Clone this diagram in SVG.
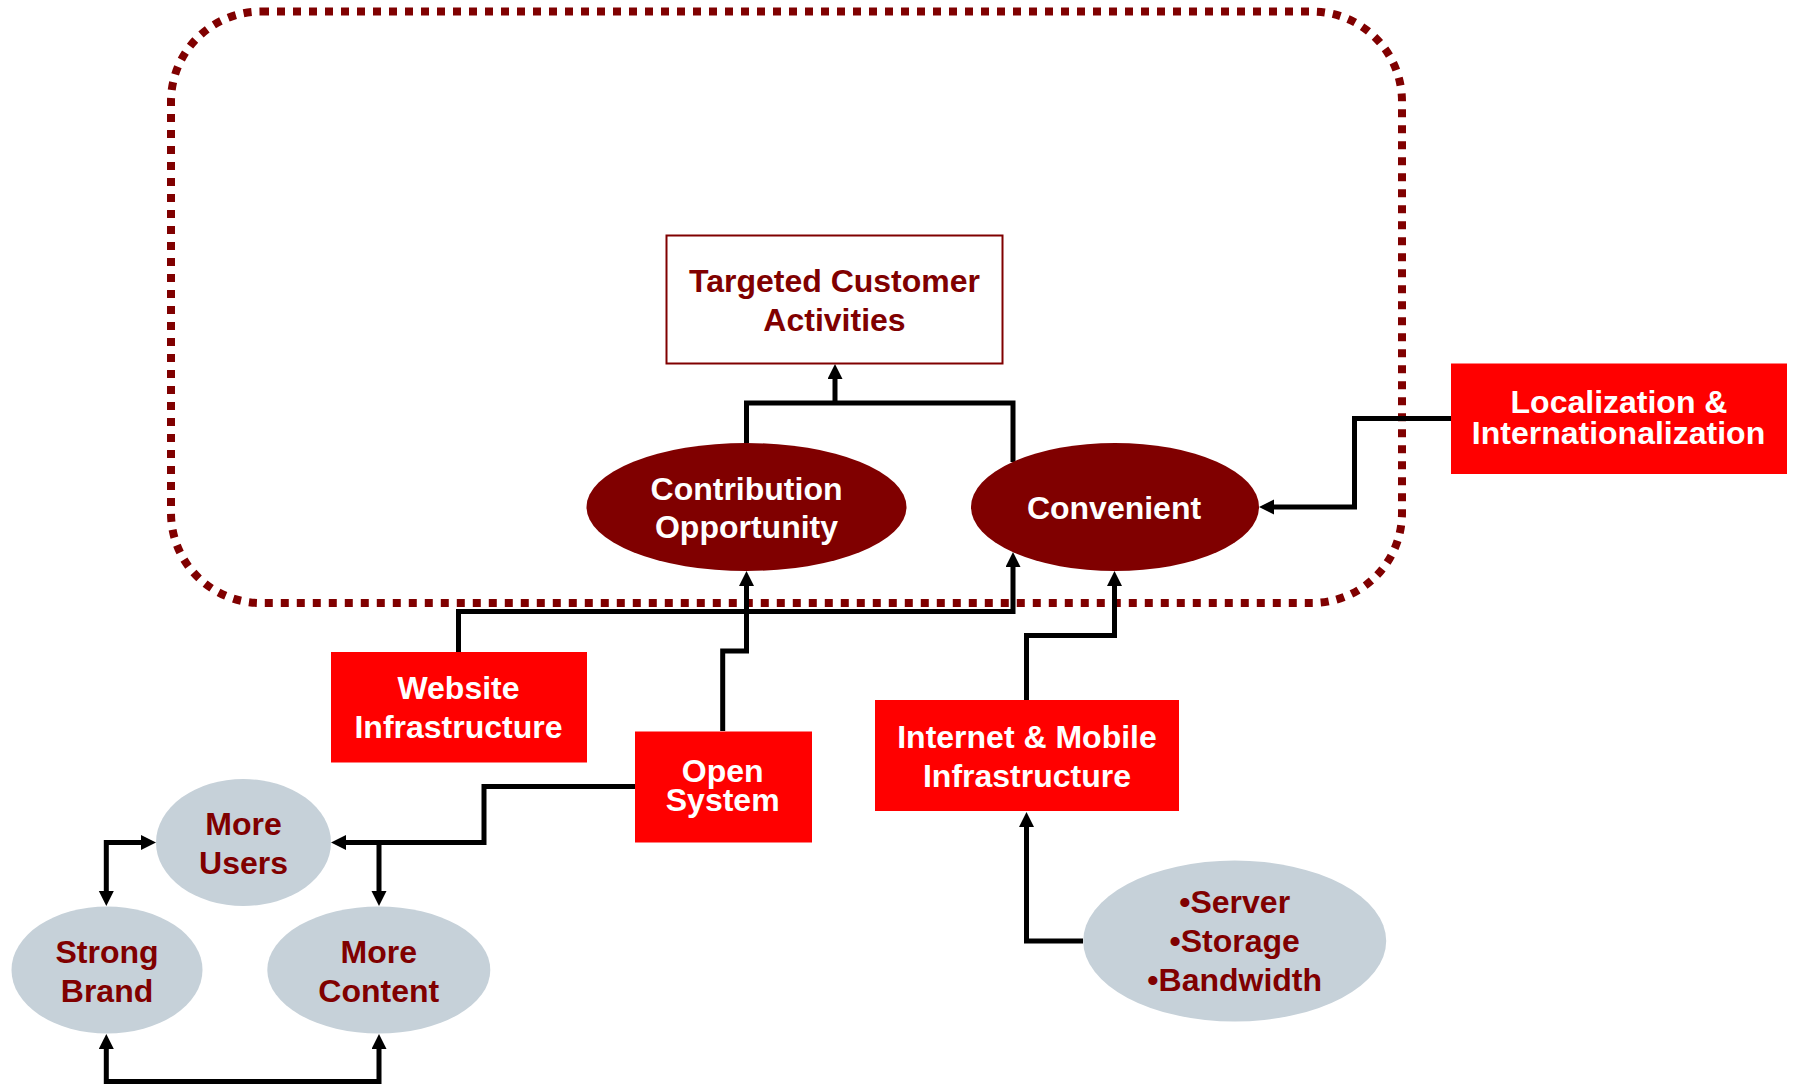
<svg xmlns="http://www.w3.org/2000/svg" width="1793" height="1087" viewBox="0 0 1793 1087">
<style>
text{font-family:"Liberation Sans",Arial,sans-serif;font-weight:bold;font-size:32px;text-anchor:middle}
.w{fill:#FFFFFF}
.d{fill:#800000}
.red{fill:#FF0000}
.dark{fill:#800000}
.gray{fill:#C6D1D9}
.c{fill:none;stroke:#000;stroke-width:5}
.a{marker-end:url(#ah)}
.b{marker-start:url(#ah);marker-end:url(#ah)}
</style>
<defs>
<marker id="ah" markerUnits="userSpaceOnUse" markerWidth="16" markerHeight="16" refX="5" refY="7.5" orient="auto-start-reverse">
<path d="M0,0 L15,7.5 L0,15 Z" fill="#000"/>
</marker>
</defs>
<rect id="boundary" x="171" y="11.5" width="1231" height="591.5" rx="90" ry="90" fill="none" stroke="#800000" stroke-width="8" stroke-dasharray="8 8"/>
<g id="connectors">
<path class="c" d="M746.5,443 V403 H1013 V462"/>
<path class="c a" d="M835,403 V374"/>
<path class="c a" d="M1451,418.5 H1354.5 V507 H1269"/>
<path class="c a" d="M458.5,652 V611.5 H1013 V562"/>
<path class="c a" d="M722.7,731 V651 H746.5 V581"/>
<path class="c a" d="M635,786.5 H484 V842.5 H341"/>
<path class="c a" d="M379,842.5 V896"/>
<path class="c b" d="M146,842.5 H106.3 V896"/>
<path class="c b" d="M106.3,1044 V1081.5 H379 V1044"/>
<path class="c a" d="M1026.5,700 V635.5 H1114.5 V581"/>
<path class="c a" d="M1083,941 H1026.5 V822"/>
</g>
<g id="targeted">
<rect x="666.5" y="235.5" width="336" height="128" fill="#FFFFFF" stroke="#800000" stroke-width="2"/>
<text class="d" x="834.5" y="292">Targeted Customer</text>
<text class="d" x="834.5" y="331">Activities</text>
</g>
<g id="contribution">
<ellipse class="dark" cx="746.5" cy="507" rx="160" ry="64"/>
<text class="w" x="746.5" y="500">Contribution</text>
<text class="w" x="746.5" y="538">Opportunity</text>
</g>
<g id="convenient">
<ellipse class="dark" cx="1115" cy="507" rx="144" ry="64"/>
<text class="w" x="1114" y="519">Convenient</text>
</g>
<g id="localization">
<rect class="red" x="1451" y="363.5" width="336" height="110.5"/>
<text class="w" x="1619" y="413">Localization &amp;</text>
<text class="w" x="1618.5" y="444">Internationalization</text>
</g>
<g id="website">
<rect class="red" x="331" y="652" width="256" height="110.5"/>
<text class="w" x="458.5" y="699">Website</text>
<text class="w" x="458.5" y="738">Infrastructure</text>
</g>
<g id="opensystem">
<rect class="red" x="635" y="731.5" width="177" height="111"/>
<text class="w" x="722.7" y="782">Open</text>
<text class="w" x="722.7" y="811">System</text>
</g>
<g id="internet">
<rect class="red" x="875" y="700" width="304" height="111"/>
<text class="w" x="1027" y="748">Internet &amp; Mobile</text>
<text class="w" x="1027" y="787">Infrastructure</text>
</g>
<g id="moreusers">
<ellipse class="gray" cx="243.5" cy="842.5" rx="87.5" ry="63.5"/>
<text class="d" x="243.5" y="835">More</text>
<text class="d" x="243.5" y="874">Users</text>
</g>
<g id="strongbrand">
<ellipse class="gray" cx="107" cy="970" rx="95.5" ry="63.5"/>
<text class="d" x="107" y="963">Strong</text>
<text class="d" x="107" y="1002">Brand</text>
</g>
<g id="morecontent">
<ellipse class="gray" cx="378.8" cy="970" rx="111.5" ry="63.5"/>
<text class="d" x="378.8" y="963">More</text>
<text class="d" x="378.8" y="1002">Content</text>
</g>
<g id="resources">
<ellipse class="gray" cx="1234.7" cy="941" rx="151.5" ry="80.5"/>
<text class="d" x="1234.7" y="913">•Server</text>
<text class="d" x="1234.7" y="952">•Storage</text>
<text class="d" x="1234.7" y="991">•Bandwidth</text>
</g>
</svg>
